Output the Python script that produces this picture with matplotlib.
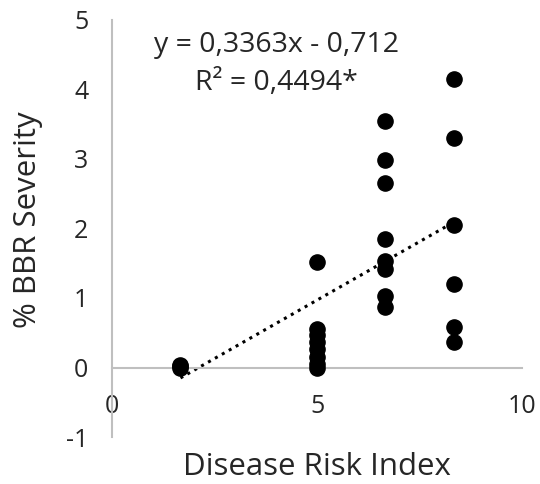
import numpy as np
import matplotlib.pyplot as plt

plt.rcParams['font.family'] = ['Open Sans', 'DejaVu Sans']
plt.rcParams['axes.unicode_minus'] = False

# disease risk index groups and % BBR severity
dri_low = [1.67, 1.67, 1.67]
sev_low = [0.0, 0.02, 0.04]
dri_mid = [5.0] * 8
sev_mid = [1.52, 0.55, 0.47, 0.36, 0.26, 0.15, 0.05, 0.0]
dri_high = [6.67] * 8
sev_high = [3.55, 2.98, 2.65, 1.85, 1.53, 1.42, 1.03, 0.87]
dri_top = [8.33] * 6
sev_top = [4.15, 3.30, 2.05, 1.20, 0.58, 0.36]

x = np.array(dri_low + dri_mid + dri_high + dri_top)
y = np.array(sev_low + sev_mid + sev_high + sev_top)

# trendline reported on the chart
slope = 0.3363
intercept = -0.712
r2_text = "0,4494*"

fig = plt.figure(figsize=(5.4, 4.84), dpi=100)
ax = fig.add_axes([0.2074, 0.0971, 0.7593, 0.8616])

ax.scatter(x, y, s=120, color='black', zorder=3)
xt = np.array([x.min(), x.max()])
ax.plot(xt, slope * xt + intercept, color='black', linestyle=(0, (1, 1.6)),
        linewidth=2.2, zorder=2)

ax.set_xlim(0, 10)
ax.set_ylim(-1, 5)
ax.set_xticks([0, 5, 10])
ax.set_yticks([-1, 0, 1, 2, 3, 4, 5])

ax.spines['top'].set_visible(False)
ax.spines['right'].set_visible(False)
ax.spines['bottom'].set_position(('data', 0))
for s in ['left', 'bottom']:
    ax.spines[s].set_color('#BFBFBF')
    ax.spines[s].set_linewidth(1.5)
ax.tick_params(axis='both', length=0, labelsize=18, labelcolor='#262626')
ax.tick_params(axis='x', pad=19)
ax.tick_params(axis='y', pad=17)

ax.set_xlabel('Disease Risk Index', fontsize=22.5, color='#262626', va='center')
ax.set_ylabel('% BBR Severity', fontsize=22.5, color='#262626', va='center')
ax.xaxis.set_label_coords(0.5, -0.072)
ax.yaxis.set_label_coords(-0.205, 0.52)

eq = f"y = {str(slope).replace('.', ',')}x - {str(-intercept).replace('.', ',')}\nR² = {r2_text}"
ax.text(4.0, 4.37, eq, ha='center', va='center', fontsize=20.5,
        color='#262626', linespacing=1.45)

fig.savefig('out.png', dpi=100)
